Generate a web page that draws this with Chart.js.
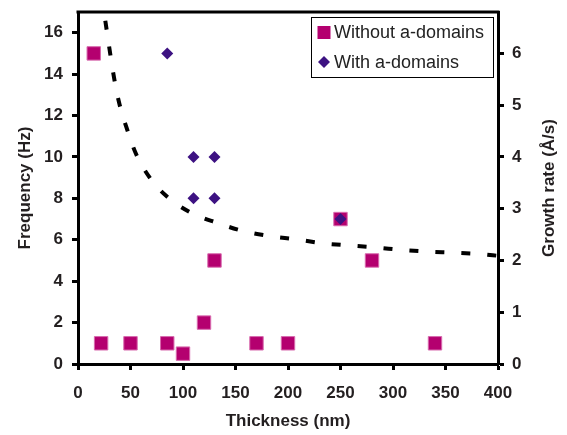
<!DOCTYPE html>
<html>
<head>
<meta charset="utf-8">
<script src="https://cdn.jsdelivr.net/npm/chart.js@4.4.1/dist/chart.umd.min.js"></script>
<style>
  html, body { margin: 0; padding: 0; background: #fff; }
  canvas { display: block; }
</style>
</head>
<body>
<canvas id="chart" width="567" height="435"></canvas>
<script>
  // frequency vs thickness, films without a-domains
  const thicknessWithout = [15, 22, 50, 85, 100, 120, 130, 170, 200, 250, 280, 340];
  const freqWithout = [15, 1, 1, 1, 0.5, 2, 5, 1, 1, 7, 5, 1];
  // films with a-domains
  const thicknessWith = [85, 110, 110, 130, 130, 250];
  const freqWith = [15, 10, 8, 10, 8, 7];
  // growth rate curve (right axis)
  const fitThickness = [26, 34, 39, 46, 55, 68, 85, 107, 132, 157, 183, 207, 234, 258, 284, 310, 334, 359, 385, 400];
  const fitRate = [6.63, 5.57, 5.06, 4.58, 4.07, 3.61, 3.23, 2.93, 2.73, 2.57, 2.47, 2.41, 2.33, 2.29, 2.25, 2.20, 2.17, 2.15, 2.12, 2.09];

  const legendLabels = ['Without a-domains', 'With a-domains'];
  const magenta = '#B4006F';
  const purple = '#3D1282';
  const textColor = '#231F20';
  const fontFamily = '"Liberation Sans", Arial, sans-serif';

  function toPoints(xs, ys) {
    return xs.map(function (x, i) { return { x: x, y: ys[i] }; });
  }

  const extras = {
    id: 'extras',
    afterDraw: function (chart) {
      const ctx = chart.ctx;
      const a = chart.chartArea;
      ctx.save();
      // top frame line
      ctx.strokeStyle = '#000';
      ctx.lineWidth = 3;
      ctx.beginPath();
      ctx.moveTo(a.left - 1.5, a.top);
      ctx.lineTo(a.right + 1.5, a.top);
      ctx.stroke();

      // axis titles
      ctx.fillStyle = textColor;
      ctx.font = 'bold 17px ' + fontFamily;
      ctx.textAlign = 'center';
      ctx.textBaseline = 'middle';
      ctx.fillText('Thickness (nm)', (a.left + a.right) / 2, 421);
      const midY = (a.top + a.bottom) / 2;
      ctx.save();
      ctx.translate(25, midY);
      ctx.rotate(-Math.PI / 2);
      ctx.fillText('Frequency (Hz)', 0, 0);
      ctx.restore();
      ctx.save();
      ctx.translate(549, midY);
      ctx.rotate(-Math.PI / 2);
      ctx.fillText('Growth rate (Å/s)', 0, 0);
      ctx.restore();

      // legend box
      ctx.fillStyle = '#fff';
      ctx.fillRect(311, 17, 182, 60);
      ctx.strokeStyle = '#000';
      ctx.lineWidth = 1;
      ctx.strokeRect(311.5, 17.5, 182, 60);
      ctx.fillStyle = magenta;
      ctx.fillRect(317.5, 26, 13, 13);
      ctx.fillStyle = purple;
      ctx.beginPath();
      ctx.moveTo(324, 56);
      ctx.lineTo(330, 62);
      ctx.lineTo(324, 68);
      ctx.lineTo(318, 62);
      ctx.closePath();
      ctx.fill();
      ctx.fillStyle = '#222';
      ctx.font = '18px ' + fontFamily;
      ctx.textAlign = 'left';
      ctx.fillText(legendLabels[0], 334, 33);
      ctx.fillText(legendLabels[1], 334, 63);
      ctx.restore();
    }
  };

  const tickFont = { family: fontFamily, size: 17, weight: 'bold' };

  function fixVertical(width) {
    return function (s) {
      s.width = width;
      s.paddingTop = 0;
      s.paddingBottom = 0;
    };
  }

  new Chart(document.getElementById('chart'), {
    type: 'scatter',
    data: {
      datasets: [
        {
          label: legendLabels[1],
          data: toPoints(thicknessWith, freqWith),
          pointStyle: 'rectRot',
          pointRadius: 6,
          pointHoverRadius: 6,
          backgroundColor: purple,
          borderColor: purple,
          borderWidth: 0,
          yAxisID: 'y',
          order: 0
        },
        {
          label: legendLabels[0],
          data: toPoints(thicknessWithout, freqWithout),
          pointStyle: 'rect',
          pointRadius: 9.5,
          pointHoverRadius: 9.5,
          backgroundColor: magenta,
          borderColor: '#D86AAE',
          borderWidth: 1,
          yAxisID: 'y',
          order: 1
        },
        {
          type: 'line',
          label: 'Growth rate',
          data: toPoints(fitThickness, fitRate),
          borderColor: '#000',
          borderWidth: 4,
          borderDash: [9, 17],
          pointRadius: 0,
          fill: false,
          cubicInterpolationMode: 'monotone',
          yAxisID: 'y1',
          order: 2
        }
      ]
    },
    options: {
      responsive: false,
      animation: false,
      devicePixelRatio: 1,
      layout: { padding: { top: 12, left: 0, right: 0, bottom: 0 } },
      plugins: {
        legend: { display: false },
        tooltip: { enabled: false }
      },
      scales: {
        x: {
          type: 'linear',
          min: 0,
          max: 400,
          ticks: { stepSize: 50, color: textColor, font: tickFont, padding: 13, maxRotation: 0 },
          grid: { drawOnChartArea: false, drawTicks: true, tickLength: 6, tickWidth: 3, tickColor: '#000' },
          border: { color: '#000', width: 3 },
          afterFit: function (s) { s.height = 71; }
        },
        y: {
          position: 'left',
          min: 0,
          max: 17,
          ticks: { stepSize: 2, includeBounds: false, color: textColor, font: tickFont, padding: 9 },
          grid: { drawOnChartArea: false, drawTicks: true, tickLength: 6, tickWidth: 3, tickColor: '#000' },
          border: { color: '#000', width: 3 },
          afterFit: fixVertical(78)
        },
        y1: {
          position: 'right',
          min: 0,
          max: 6.8,
          ticks: { stepSize: 1, includeBounds: false, color: textColor, font: tickFont, padding: 8 },
          grid: { drawOnChartArea: false, drawTicks: true, tickLength: 6, tickWidth: 3, tickColor: '#000' },
          border: { color: '#000', width: 3 },
          afterFit: fixVertical(69)
        }
      }
    },
    plugins: [extras]
  });
</script>
</body>
</html>
